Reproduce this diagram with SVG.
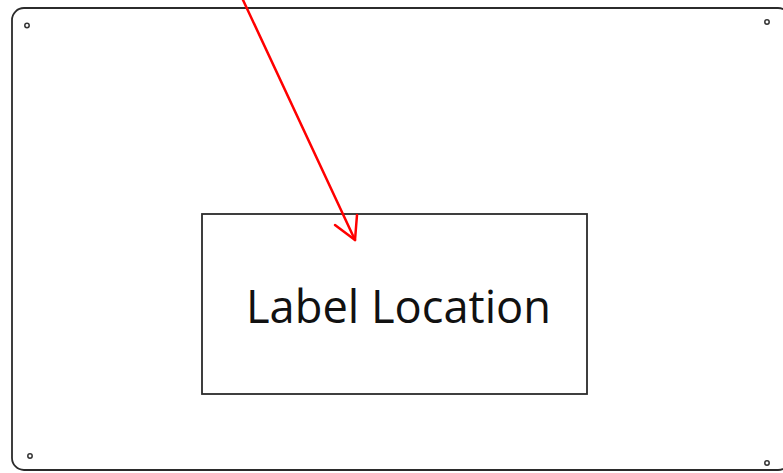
<svg xmlns="http://www.w3.org/2000/svg" width="783" height="473" viewBox="0 0 783 473">
  <defs>
    <style>
      .frame { fill: none; stroke: #2b2b2b; stroke-width: 1.8; }
      .hole { fill: none; stroke: #333; stroke-width: 1.5; }
      .box { fill: #fff; stroke: #2b2b2b; stroke-width: 1.8; }
      .lbl { font-family: "Open Sans", "Noto Sans", "Liberation Sans", sans-serif; font-size: 46px; fill: #111; }
      .arrow { fill: none; stroke: #ff0000; stroke-width: 2.5; stroke-linecap: round; stroke-linejoin: round; }
    </style>
  </defs>
  <rect width="783" height="473" fill="#fff"/>
  <g id="plate">
    <rect class="frame" x="12" y="8" width="778" height="462" rx="12" ry="12"/>
    <circle class="hole" cx="27" cy="25.5" r="2.2"/>
    <circle class="hole" cx="767" cy="22" r="2.2"/>
    <circle class="hole" cx="30" cy="456" r="2.2"/>
    <circle class="hole" cx="767" cy="463" r="2.2"/>
  </g>
  <g id="label-location">
    <rect class="box" x="202" y="214" width="385" height="180"/>
    <text class="lbl" x="246" y="323" textLength="305" lengthAdjust="spacingAndGlyphs">Label Location</text>
  </g>
  <g id="connectors">
    <path class="arrow" d="M243,0 L355,240"/>
    <path class="arrow" d="M335,225 L355,240 L357,215"/>
  </g>
</svg>
